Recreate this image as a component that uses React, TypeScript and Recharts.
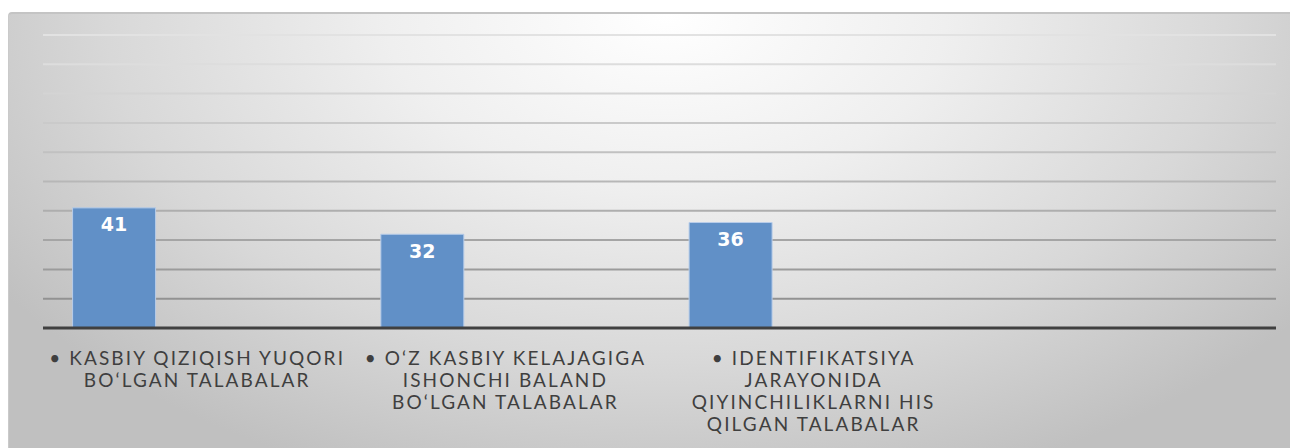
import { BarChart, Bar, XAxis, YAxis, CartesianGrid, LabelList } from "recharts";

const categories = [
  ["• KASBIY QIZIQISH YUQORI", "BO‘LGAN TALABALAR"],
  ["• O‘Z KASBIY KELAJAGIGA", "ISHONCHI BALAND", "BO‘LGAN TALABALAR"],
  ["• IDENTIFIKATSIYA", "JARAYONIDA", "QIYINCHILIKLARNI HIS", "QILGAN TALABALAR"],
  [],
];
const series1 = [41, 32, 36, null];
const series2 = [null, null, null, null];
const series3 = [null, null, null, null];
const yTicks = [0, 10, 20, 30, 40, 50, 60, 70, 80, 90, 100];

const data = categories.map((c, i) => ({
  name: String(i),
  s1: series1[i],
  s2: series2[i],
  s3: series3[i],
}));

function CategoryTick(props: any) {
  const { x, y, payload } = props;
  const lines = categories[Number(payload.value)] || [];
  return (
    <g transform={`translate(${x},${y})`}>
      {lines.map((l, i) => (
        <text
          key={i}
          x={0}
          y={29 + i * 22}
          textAnchor="middle"
          fill="#3f3f3f"
          fontSize={19}
          letterSpacing={2.1}
          fontFamily="Lato, sans-serif"
        >
          {l}
        </text>
      ))}
    </g>
  );
}

function GridLine(props: any) {
  const { x1, x2, y1, y2 } = props;
  // lines get darker toward the bottom of the plot
  const t = Math.max(0, Math.min(1, (y1 - 35) / 293));
  const v = Math.round(226 - t * 94);
  const c = `rgb(${v},${v},${v})`;
  if (y1 > 326) return <g />;
  return <line x1={x1} x2={x2} y1={y1} y2={y2} stroke={c} strokeWidth={2} />;
}

export default function App() {
  return (
    <div style={{ paddingTop: 4, width: 1290 }}>
      <div
        style={{
          width: 1290,
          height: 436,
          borderTop: "2px solid #c4c4c4",
          borderLeft: "1px solid #cacaca",
          borderTopLeftRadius: 4,
          boxSizing: "border-box",
          background:
            "radial-gradient(ellipse 62% 115% at 51% 0%, #ffffff 0%, #efefef 35%, #d8d8d8 70%, #c0c0c0 100%)",
        }}
      >
        <BarChart
          width={1289}
          height={434}
          data={data}
          margin={{ top: 21, right: 22, left: 34, bottom: 0 }}
          barCategoryGap="9.6%"
          barGap={0}
        >
          <CartesianGrid vertical={false} horizontal={GridLine} />
          <YAxis hide domain={[0, 100]} ticks={yTicks} />
          <XAxis
            dataKey="name"
            height={120}
            tick={CategoryTick}
            tickLine={false}
            axisLine={{ stroke: "#404040", strokeWidth: 3 }}
            interval={0}
          />
          <Bar dataKey="s1" fill="#6190c7" stroke="#b8cde9" strokeWidth={1} isAnimationActive={false}>
            <LabelList
              dataKey="s1"
              position="insideTop"
              offset={10}
              fill="#ffffff"
              fontSize={19}
              fontWeight="bold"
              fontFamily="DejaVu Sans, sans-serif"
            />
          </Bar>
          <Bar dataKey="s2" fill="#c0504d" isAnimationActive={false} />
          <Bar dataKey="s3" fill="#9bbb59" isAnimationActive={false} />
        </BarChart>
      </div>
    </div>
  );
}
